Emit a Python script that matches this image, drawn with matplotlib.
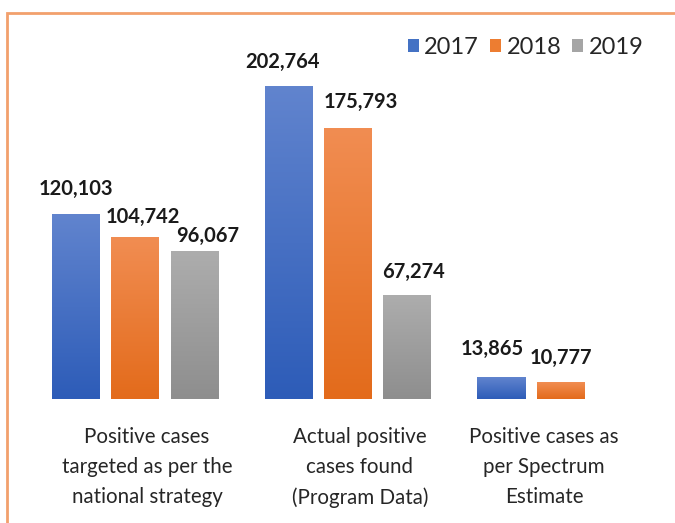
import numpy as np
import matplotlib
matplotlib.use('Agg')
import matplotlib.pyplot as plt
from matplotlib.colors import LinearSegmentedColormap
from matplotlib.patches import Rectangle

plt.rcParams['font.family'] = ['Lato', 'DejaVu Sans']

# data
categories = ['Positive cases\ntargeted as per the\nnational strategy',
              'Actual positive\ncases found\n(Program Data)',
              'Positive cases as\nper Spectrum\nEstimate']
years = ['2017', '2018', '2019']
values_2017 = [120103, 202764, 13865]
values_2018 = [104742, 175793, 10777]
values_2019 = [96067, 67274, 0]

# gradient colours (top, bottom) per series
grad = {'2017': ('#6184CE', '#2D5CB8'),
        '2018': ('#F18D52', '#E36B1B'),
        '2019': ('#ADADAD', '#8E8E8E')}
solid = {'2017': '#4472C4', '2018': '#ED7D31', '2019': '#A5A5A5'}

# pixel nudges for the value labels (Excel puts them a bit off-centre)
label_dx = [[0, 8, 13], [-6, 13, 6], [-9, 0, 0]]
label_dy = [[25, 21, 15], [25, 26, 23], [29, 24, 0]]

W, H = 675, 523
fig = plt.figure(figsize=(W / 100, H / 100), dpi=100)
# axes: full width, baseline at 399 px from top
ax = fig.add_axes([0, 124 / H, 1, 399 / H])
px_x = 213.0  # pixels per group
ax.axis('off')

x = np.arange(len(categories))
step = 59.5 / px_x
width = 48 / px_x
series = [values_2017, values_2018, values_2019]
pt = 0.72  # points per pixel

for i, (yr, vals) in enumerate(zip(years, series)):
    pos = x + (i - 1) * step
    bars = ax.bar(pos, vals, width, color=solid[yr], label=yr, zorder=1)
    cmap = LinearSegmentedColormap.from_list(yr, [grad[yr][1], grad[yr][0]])
    for j, b in enumerate(bars):
        h = b.get_height()
        if h <= 0:
            continue
        g = np.linspace(0, 1, 256).reshape(-1, 1)
        ax.imshow(g, extent=[b.get_x(), b.get_x() + b.get_width(), 0, h],
                  origin='lower', aspect='auto', cmap=cmap, zorder=2)
        ax.annotate(f'{int(vals[j]):,}', (b.get_x() + b.get_width() / 2, h),
                    xytext=(label_dx[j][i] * pt, label_dy[j][i] * pt),
                    textcoords='offset points', ha='center', va='center',
                    fontsize=14.5, fontweight='bold', color='#1a1a1a', zorder=3)

# category labels below the baseline
cat_dx = [12, 12, -17]
for j, c in enumerate(categories):
    ax.annotate(c, (x[j], 0), xytext=(cat_dx[j] * pt, -20.5),
                textcoords='offset points', ha='center', va='top',
                fontsize=14.8, color='#262626', linespacing=1.62)

ax.set_xlim(-135 / px_x, (W - 135) / px_x)
ax.set_ylim(0, 399 / (185 / 120103))

fig.legend(loc='upper left', bbox_to_anchor=(408 / W, 1 - 37 / H),
           ncol=3, frameon=False, fontsize=17, handlelength=0.47,
           handleheight=0.47, handletextpad=0.22, columnspacing=0.47,
           borderpad=0, borderaxespad=0, labelcolor='#262626')

# orange outline of the chart area (only top and left edges visible)
fig.add_artist(Rectangle((7 / W, -0.1), 1.2, 1.1 - 13 / H, transform=fig.transFigure,
                         fill=False, edgecolor='#F2A06D', linewidth=2))

fig.savefig('out.png', dpi=100)
